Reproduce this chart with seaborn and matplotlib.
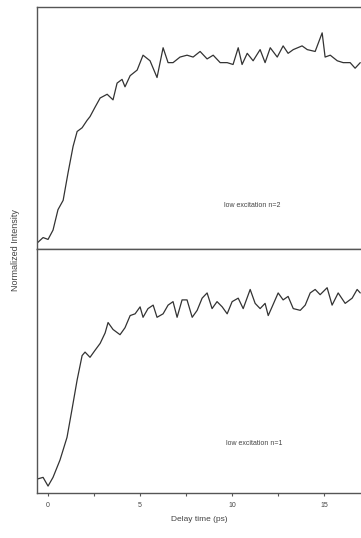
import matplotlib
matplotlib.use("Agg")
import matplotlib.pyplot as plt
import numpy as np
import pandas as pd
import seaborn as sns

# delay time (ps) and normalized intensity
t_n2 = [-0.60, -0.27, 0.00, 0.27, 0.54, 0.82, 1.09, 1.36, 1.58, 1.85, 2.12, 2.28, 2.55, 2.83,
        3.21, 3.53, 3.75, 4.02, 4.18, 4.46, 4.84, 5.16, 5.54, 5.92, 6.25, 6.52, 6.79, 7.17,
        7.55, 7.88, 8.26, 8.64, 8.97, 9.35, 9.73, 10.05, 10.33, 10.54, 10.82, 11.14, 11.52,
        11.79, 12.07, 12.45, 12.77, 13.04, 13.32, 13.80, 14.08, 14.51, 14.89, 15.05, 15.33,
        15.71, 16.03, 16.41, 16.68, 16.96]
i_n2 = [0.00, 0.03, 0.02, 0.07, 0.18, 0.23, 0.38, 0.52, 0.60, 0.62, 0.66, 0.68, 0.73, 0.78,
        0.80, 0.77, 0.86, 0.88, 0.84, 0.90, 0.93, 1.01, 0.98, 0.89, 1.05, 0.97, 0.97, 1.00,
        1.01, 1.00, 1.03, 0.99, 1.01, 0.97, 0.97, 0.96, 1.05, 0.96, 1.02, 0.98, 1.04,
        0.97, 1.05, 1.00, 1.06, 1.02, 1.04, 1.06, 1.04, 1.03, 1.13, 1.00, 1.01,
        0.98, 0.97, 0.97, 0.94, 0.97]

t_n1 = [-0.60, -0.27, 0.00, 0.27, 0.65, 1.03, 1.30, 1.58, 1.85, 2.01, 2.28, 2.55, 2.83, 3.10,
        3.26, 3.53, 3.91, 4.18, 4.46, 4.73, 5.00, 5.16, 5.43, 5.71, 5.92, 6.25, 6.52, 6.79,
        7.01, 7.28, 7.55, 7.83, 8.10, 8.37, 8.64, 8.91, 9.18, 9.46, 9.73, 10.00, 10.33,
        10.60, 10.98, 11.25, 11.52, 11.79, 11.96, 12.17, 12.50, 12.77, 13.04, 13.32, 13.70,
        13.97, 14.24, 14.51, 14.78, 15.16, 15.43, 15.76, 16.14, 16.52, 16.79, 16.96]
i_n1 = [0.00, 0.01, -0.04, 0.01, 0.11, 0.24, 0.40, 0.57, 0.71, 0.73, 0.70, 0.74, 0.78, 0.84,
        0.90, 0.86, 0.83, 0.87, 0.94, 0.95, 0.99, 0.93, 0.98, 1.00, 0.93, 0.95, 1.00, 1.02,
        0.93, 1.03, 1.03, 0.93, 0.97, 1.04, 1.07, 0.98, 1.02, 0.99, 0.95, 1.02, 1.04,
        0.98, 1.09, 1.01, 0.98, 1.01, 0.94, 0.99, 1.07, 1.03, 1.05, 0.98, 0.97,
        1.00, 1.07, 1.09, 1.06, 1.10, 1.00, 1.07, 1.01, 1.04, 1.09, 1.07]

labels = ["low excitation n=2", "low excitation n=1"]
x_ticks = [0, 5, 10, 15]

sns.set_style("ticks")
plt.rcParams['font.family'] = ['Liberation Sans', 'DejaVu Sans']

fig = plt.figure(figsize=(3.61, 5.38), dpi=100)
ax_top = fig.add_axes([0.1025, 0.537, 0.8975, 0.450])
ax_bot = fig.add_axes([0.1025, 0.0836, 0.8975, 0.4534])

line_col = "#333333"
df_top = pd.DataFrame({"t": t_n2, "I": i_n2})
df_bot = pd.DataFrame({"t": t_n1, "I": i_n1})
sns.lineplot(data=df_top, x="t", y="I", ax=ax_top, color=line_col, linewidth=0.9)
sns.lineplot(data=df_bot, x="t", y="I", ax=ax_bot, color=line_col, linewidth=0.9)

ax_top.set_ylim(-0.032, 1.269)
ax_bot.set_ylim(-0.080, 1.322)
for ax in (ax_top, ax_bot):
    ax.set_xlim(-0.6, 17.0)
    ax.set_yticks([])
    ax.set_ylabel("")
    ax.set_xlabel("")
    ax.spines["right"].set_visible(False)
    for s in ("left", "top", "bottom"):
        ax.spines[s].set_color("#555555")
        ax.spines[s].set_linewidth(1.0)

ax_top.set_xticks([])
ax_bot.set_xticks(x_ticks)
ax_bot.set_xticklabels([str(v) for v in x_ticks], fontsize=5, color="#444444")
ax_bot.set_xticks([2.5, 7.5, 12.5], minor=True)
ax_bot.tick_params(axis="x", which="both", length=2.5, width=0.8, color="#555555", pad=4)
ax_bot.set_xlabel("Delay time (ps)", fontsize=6, color="#444444", labelpad=5)

ax_top.text(0.665, 0.18, labels[0], transform=ax_top.transAxes, fontsize=5,
            color="#444444", ha="center", va="center")
ax_bot.text(0.67, 0.203, labels[1], transform=ax_bot.transAxes, fontsize=5,
            color="#444444", ha="center", va="center")

fig.text(0.042, 0.535, "Normalized Intensity", rotation=90, fontsize=6.5,
         color="#444444", ha="center", va="center")

fig.savefig("out.png", dpi=100)
